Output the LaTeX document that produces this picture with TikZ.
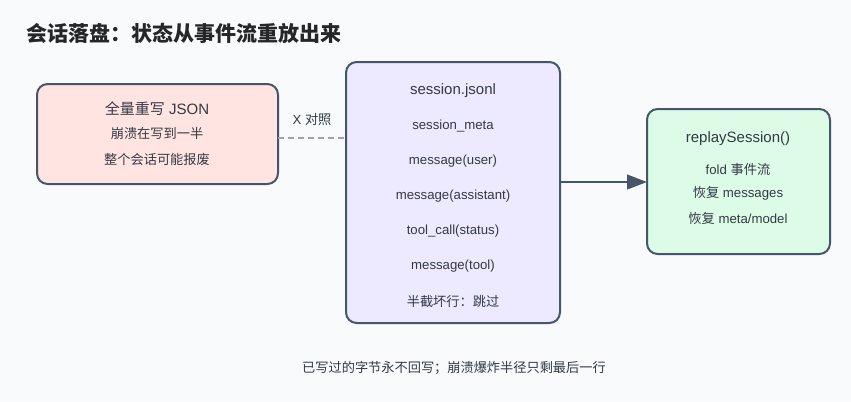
\documentclass[tikz,border=0pt]{standalone}
\usepackage{fontspec}
\setmainfont{Liberation Sans}
\newfontfamily\cjk{Noto Sans CJK SC}
\usetikzlibrary{positioning,arrows.meta}
\definecolor{bgcol}{HTML}{F8FAFC}
\definecolor{edgecol}{HTML}{475569}
\definecolor{txtcol}{HTML}{333A45}
\definecolor{pinkfill}{HTML}{FFE4E1}
\definecolor{lilacfill}{HTML}{EDE9FE}
\definecolor{mintfill}{HTML}{DCFCE7}
\definecolor{dashcol}{HTML}{9CA3AF}
\tikzset{
  box/.style={draw=edgecol, line width=1.5pt, rounded corners=8pt, inner sep=0pt},
  head/.style={text=txtcol, font=\fontsize{11.25}{13}\selectfont},
  row/.style={text=txtcol, font=\fontsize{9.9}{12}\selectfont},
}
\begin{document}
\begin{tikzpicture}[x=0.75pt,y=-0.75pt]

\fill[bgcol] (0,0) rectangle (851,401);
\useasboundingbox (0,0) rectangle (851,401);

\node[anchor=west, text=black!85, font=\cjk\bfseries\fontsize{15.75}{18}\selectfont] (title) at (22,33) {会话落盘：状态从事件流重放出来};

% boxes
\draw[box, fill=pinkfill] (37,84) rectangle (278,184);
\draw[box, fill=lilacfill] (346,62) rectangle (560,323);
\draw[box, fill=mintfill] (647,109) rectangle (830,254);

\coordinate (full) at (278,138);
\coordinate (logL) at (346,138);
\coordinate (logR) at (560,182);
\coordinate (replay) at (647,182);

% left box
\node[head] (fullhead) at (157,109) {{\cjk 全量重写} JSON};
\node[row, font=\cjk\fontsize{9.9}{12}\selectfont] (full1) at (157,134) {崩溃在写到一半};
\node[row, font=\cjk\fontsize{9.9}{12}\selectfont] (full2) at (157,159) {整个会话可能报废};

% middle box
\node[head] (loghead) at (453,91) {session.jsonl};
\foreach \t [count=\i] in {session\_meta,message(user),message(assistant),tool\_call(status),message(tool),{\cjk 半截坏行：跳过}}
{
\node[row] (log\i) at (453,91+35*\i) {\t};
}

% right box
\node[head] (replayhead) at (738,139) {replaySession()};
\node[row] (replay1) at (738,169) {fold {\cjk 事件流}};
\node[row] (replay2) at (738,193) {{\cjk 恢复} messages};
\node[row] (replay3) at (738,218) {{\cjk 恢复} meta/model};

% connectors
\draw[dashcol, line width=1.5pt, dash pattern=on 4.5pt off 3pt] (full) -- node[above=5pt, row] (cmp) {X {\cjk 对照}} (logL);
\draw[edgecol, line width=1.5pt, -{Triangle[length=15pt,width=11pt]}] (logR) -- (replay);

\node[row, font=\cjk\fontsize{9.9}{12}\selectfont] (note) at (454,368) {已写过的字节永不回写；崩溃爆炸半径只剩最后一行};

\end{tikzpicture}
\end{document}
